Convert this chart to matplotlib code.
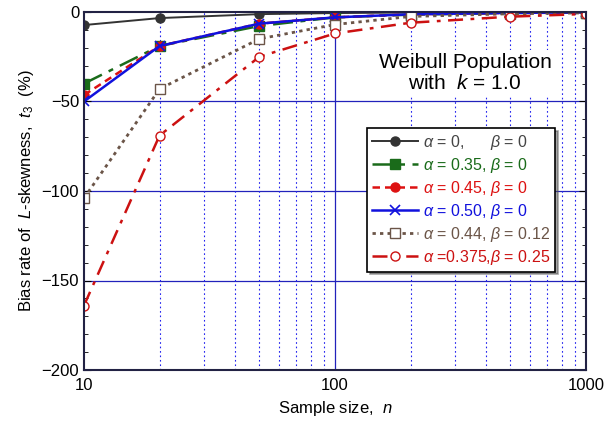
import matplotlib
matplotlib.use("Agg")
import matplotlib.pyplot as plt
import numpy as np

plt.rcParams['font.family'] = ['Liberation Sans', 'DejaVu Sans']
plt.rcParams['mathtext.fontset'] = 'custom'
plt.rcParams['mathtext.rm'] = 'Liberation Sans'
plt.rcParams['mathtext.it'] = 'Liberation Sans:italic'
plt.rcParams['mathtext.bf'] = 'Liberation Sans:bold'

n = [10, 20, 50, 100, 200, 500, 1000]
s_a0 = [-7.3, -3.4, -1.2, -0.6, -0.3, -0.1, 0.0]
s_a035 = [-40, -19, -7.8, -3.0, -1.5, -0.6, -0.3]
s_a045 = [-46.4, -19, -6.5, -3.0, -1.3, -0.5, -0.2]
s_a050 = [-50, -19, -6.5, -3.0, -1.3, -0.5, -0.2]
s_a044 = [-104, -43, -15, -7.0, -2.5, -1.0, -0.5]
s_a0375 = [-164, -69, -25, -12, -6, -2.6, -1.1]

labels = [r'$\alpha$ = 0,      $\beta$ = 0',
          r'$\alpha$ = 0.35, $\beta$ = 0',
          r'$\alpha$ = 0.45, $\beta$ = 0',
          r'$\alpha$ = 0.50, $\beta$ = 0',
          r'$\alpha$ = 0.44, $\beta$ = 0.12',
          r'$\alpha$ =0.375,$\beta$ = 0.25']

fig = plt.figure(figsize=(6.06, 4.25), dpi=100)
ax = fig.add_axes([0.1386, 0.1294, 0.8284, 0.8424])

# grid
for y in [-50, -100, -150]:
    ax.axhline(y, color='#2222bb', lw=0.9, zorder=0)
ax.axvline(100, color='#2222bb', lw=0.9, zorder=0)
for x in list(range(20, 100, 10)) + list(range(200, 1000, 100)):
    ax.axvline(x, color='#2222ee', lw=0.8, ls=(0, (1.5, 2.5)), zorder=0)

ax.plot(n, s_a0, color='#333333', ls='-', marker='o', ms=6.5, lw=1.4, label=labels[0])
ax.plot(n, s_a035, color='#1a6b1a', ls=(0, (8, 3, 2, 3)), marker='s', ms=6.5, lw=1.8, label=labels[1])
ax.plot(n, s_a045, color='#dd1111', ls=(0, (3, 2)), marker='o', ms=6.5, lw=1.8, label=labels[2])
ax.plot(n, s_a050, color='#1111dd', ls='-', marker='x', ms=6.5, mew=1.2, lw=1.8, label=labels[3])
ax.plot(n, s_a044, color='#6b5548', ls=(0, (1.2, 1.5)), marker='s', ms=6.5, mfc='white', lw=2.0, label=labels[4])
ax.plot(n, s_a0375, color='#cc1111', ls=(0, (6, 3, 1.5, 3)), marker='o', ms=6.5, mfc='white', lw=1.8, label=labels[5])

ax.set_xscale('log')
ax.set_xlim(10, 1000)
ax.set_ylim(-200, 0)
ax.set_yticks([0, -50, -100, -150, -200])
ax.set_yticks(np.arange(-200, 1, 10), minor=True)
ax.set_xticks([10, 100, 1000])
ax.set_xticklabels(['10', '100', '1000'])
ax.xaxis.set_minor_formatter(matplotlib.ticker.NullFormatter())
ax.tick_params(direction='in', which='both', right=True, top=False, labelsize=12, length=5)
ax.tick_params(which='minor', length=3)
ax.tick_params(axis='x', which='both', length=0, pad=6)
for sp in ax.spines.values():
    sp.set_linewidth(1.5)
    sp.set_color('#222244')

ax.set_xlabel(r'Sample size,  $n$', fontsize=12)
ax.set_ylabel(r'Bias rate of  $L$-skewness,  $t_3$  (%)', fontsize=12)

ax.text(0.759, 0.83, 'Weibull Population\nwith  $k$ = 1.0', transform=ax.transAxes,
        ha='center', va='center', fontsize=15, linespacing=1.15,
        bbox=dict(facecolor='white', edgecolor='none', pad=2))

leg = ax.legend(loc='upper right', bbox_to_anchor=(0.938, 0.676), fontsize=11.5,
                frameon=True, fancybox=False, shadow=True, handlelength=2.9,
                borderpad=0.3, labelspacing=0.25, handletextpad=0.3, borderaxespad=0)
leg.get_frame().set_edgecolor('black')
leg.get_frame().set_linewidth(1.2)
cols = ['#444444', '#1a6b1a', '#dd1111', '#1111dd', '#6b5548', '#cc1111']
for t, c in zip(leg.get_texts(), cols):
    t.set_color(c)

fig.savefig('out.png', dpi=100)
